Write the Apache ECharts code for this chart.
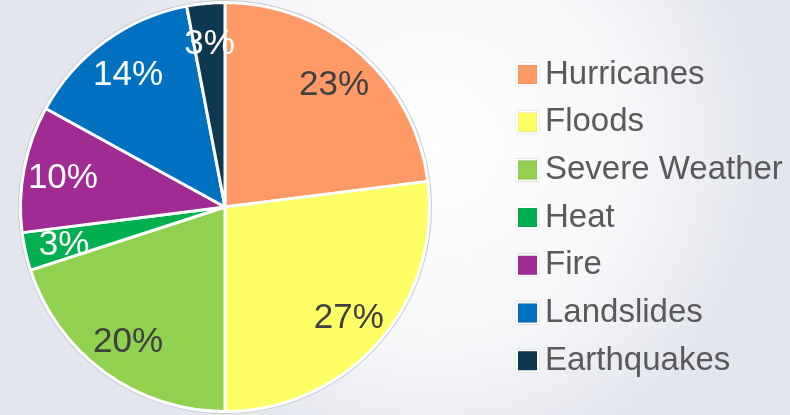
<!DOCTYPE html>
<html>
<head>
<meta charset="utf-8">
<script src="https://cdn.jsdelivr.net/npm/echarts@6/dist/echarts.min.js"></script>
<style>
  html, body { margin: 0; padding: 0; }
  #chart { width: 790px; height: 415px; }
</style>
</head>
<body>
<div id="chart"></div>
<script>
// 数据
const categories = ["Hurricanes", "Floods", "Severe Weather", "Heat", "Fire", "Landslides", "Earthquakes"];
const percents = [23, 27, 20, 3, 10, 14, 3];
const colors = ["#FF9966", "#FFFF66", "#92D050", "#00B050", "#A02B93", "#0070C0", "#0E3750"];
const labelColors = ["#404040", "#404040", "#404040", "#ffffff", "#ffffff", "#ffffff", "#ffffff"];

const pieData = categories.map((name, i) => ({
  name: name,
  value: percents[i],
  itemStyle: { color: colors[i] },
}));

const labelData = categories.map((name, i) => ({
  name: name,
  value: percents[i],
  label: { color: labelColors[i] },
}));

const chart = echarts.init(document.getElementById("chart"));
chart.setOption({
  backgroundColor: {
    type: "radial",
    x: 0.55,
    y: 0.35,
    r: 0.8,
    colorStops: [
      { offset: 0, color: "#ffffff" },
      { offset: 0.6, color: "#f6f7f9" },
      { offset: 1, color: "#e3e6ee" },
    ],
  },
  animation: false,
  legend: {
    orient: "vertical",
    left: 511,
    top: 53,
    itemWidth: 21,
    itemHeight: 21,
    itemGap: 14.7,
    icon: "rect",
    data: categories,
    itemStyle: { borderColor: "#ffffff", borderWidth: 2, shadowColor: "rgba(0,0,0,0.35)", shadowBlur: 1 },
    textStyle: {
      fontFamily: "Liberation Sans, Arial, sans-serif",
      fontSize: 33,
      color: "#595959",
      padding: [0, 0, 0, 2],
    },
  },
  series: [
    {
      type: "pie",
      center: [225, 207],
      radius: [0, 204.5],
      startAngle: 90,
      clockwise: true,
      z: 2,
      label: { show: false },
      labelLine: { show: false },
      itemStyle: { borderColor: "#ffffff", borderWidth: 3 },
      emphasis: { disabled: true },
      data: pieData,
    },
    {
      // 外圈灰色描边
      type: "pie",
      center: [225, 207],
      radius: [0, 207],
      startAngle: 90,
      silent: true,
      z: 1,
      label: { show: false },
      labelLine: { show: false },
      itemStyle: { color: "#c9ccd2" },
      data: pieData.map((d) => ({ name: d.name, value: d.value })),
    },
    {
      type: "pie",
      center: [225, 209],
      radius: [118, 206],
      startAngle: 90,
      clockwise: true,
      silent: true,
      z: 3,
      itemStyle: { color: "rgba(0,0,0,0)" },
      label: {
        show: true,
        position: "inside",
        formatter: "{c}%",
        fontFamily: "Liberation Sans, Arial, sans-serif",
        fontSize: 35,
      },
      labelLine: { show: false },
      data: labelData,
    },
  ],
});
</script>
</body>
</html>
